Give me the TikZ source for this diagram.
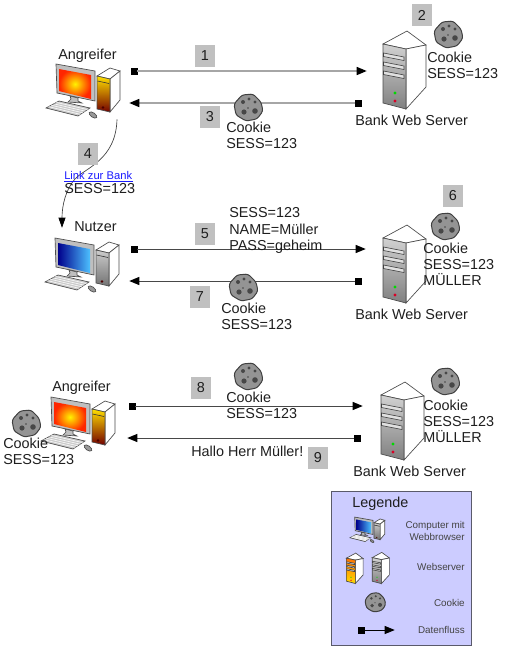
\documentclass[tikz,border=0pt]{standalone}
\usepackage{fontspec}
\setmainfont{Liberation Sans}
\usetikzlibrary{arrows.meta,shapes.geometric,calc}
\definecolor{ink}{HTML}{1E1E1E}
\definecolor{numbox}{HTML}{C0C0C0}
\definecolor{legfill}{HTML}{CCCCFF}
\definecolor{legedge}{HTML}{5A5A6A}
\definecolor{legtext}{HTML}{444444}
\definecolor{linkblue}{HTML}{1A1AFF}
\tikzset{
  lab/.style={anchor=north west,inner sep=0pt,align=left,text=ink,yshift=-0.9pt,font=\fontsize{10.8}{12.2}\selectfont},
  numb/.style={fill=numbox,minimum width=15pt,minimum height=16.5pt,inner sep=0pt,text=ink,font=\fontsize{10.8}{12}\selectfont},
  legt/.style={anchor=base east,inner sep=0pt,align=right,text=legtext,font=\fontsize{7.4}{9}\selectfont},
  sq/.style={fill=black,minimum size=5.25pt,inner sep=0pt},
  endp/.style={inner sep=0pt,minimum size=0pt},
  flowa/.style={draw=black!35,line width=1.1pt,-{Triangle[color=black,length=7.5pt,width=6pt]},shorten <=-0.75pt},
  flowb/.style={draw=black!72,line width=0.75pt,-{Triangle[color=black,length=7.5pt,width=6pt]},shorten <=-0.75pt},
  partline/.style={draw=black!75,line width=0.45pt},
  pcedge/.style={draw=black!70,line width=0.5pt}
}
\newcommand{\pccomputer}[5]{% x y scale, screen style, tower style
\begin{scope}[shift={(#1,#2)},scale=#3]
  \filldraw[fill=black!25,pcedge] (56,64) -- (95,71) -- (95,101) -- (57,93) -- cycle;
  \path[#4] (59,69) -- (91,75) -- (91,99) -- (59,91) -- cycle;
  \filldraw[fill=black!25,pcedge] (70,96) -- (78,98) -- (78,101) -- (82,103) -- (68,102) -- (71,99) -- cycle;
  \filldraw[fill=black!20,pcedge] (46,108) -- (59,101) -- (90,108) -- (78,116) -- cycle;
  \foreach \t in {0.2,0.4,0.6,0.8}{\draw[white,line width=0.4pt] ($(46,108)!\t!(59,101)$) -- ($(78,116)!\t!(90,108)$);}
  \filldraw[fill=black!40,pcedge,rotate around={-35:(93,115)}] (93,115) ellipse (4.5 and 2.2);
  \filldraw[fill=white,pcedge] (97,76) -- (110,68) -- (120,71) -- (110,79) -- cycle;
  \filldraw[fill=white,pcedge] (110,79) -- (120,71) -- (120,100) -- (110,112) -- cycle;
  \path[#5] (97,76) -- (110,79) -- (110,112) -- (97,109) -- cycle;
  \draw[pcedge] (97,76) -- (110,79) -- (110,112) -- (97,109) -- cycle;
  \draw[black!80,line width=0.45pt] (97.5,81) -- (109,83.5);
  \fill[black!70!red] (103,107.5) circle (1.3);
\end{scope}}
\newcommand{\webserver}[5]{% x y scale top bottom colour
\begin{scope}[shift={(#1,#2)},scale=#3]
  \filldraw[fill=white,pcedge] (383,44) -- (407,31) -- (426,45) -- (406,49) -- cycle;
  \filldraw[fill=white,pcedge] (406,49) -- (426,45) -- (426,87) -- (406,109) -- cycle;
  \path[top color=#4,bottom color=#5] (383,44) -- (406,49) -- (406,109) -- (383,103) -- cycle;
  \draw[pcedge] (383,44) -- (406,49) -- (406,109) -- (383,103) -- cycle;
  \foreach \d in {0,9,18}{\filldraw[fill=black!12,partline] (383.5,53+\d) -- (404,57+\d) -- (404,60.5+\d) -- (383.5,56.5+\d) -- cycle;}
  \fill[green!85!black] (395,93) circle (1.7);
  \fill[red!85!blue] (395,101) circle (1.7);
\end{scope}}
\newcommand{\biscuit}[3]{% cx cy scale
\begin{scope}[shift={(#1,#2)},scale=#3]
  \filldraw[fill=black!42,draw=black!75,line width=0.75pt,rounded corners=1.9pt]
    (-14,-3) -- (-6,-12) -- (5,-13) -- (13,-5) -- (15,4) -- (9,12) -- (-2,14) -- (-12,8) -- cycle;
  \fill[black!72] (-5,-5) circle (2) (1,-8) circle (1.6) (7,-5) circle (1.6)
    (-4,5) circle (2.6) (7,4) circle (2.8) (0,1) circle (0.9);
\end{scope}}
\begin{document}
\begin{tikzpicture}[x=0.75pt,y=-0.75pt]
\useasboundingbox (0,0) rectangle (509,651);
\tikzset{
 scrA/.style={inner color=yellow!90!orange,outer color=red!70!orange},
 scrB/.style={left color=blue!55!black,right color=blue!35!cyan!70},
 towA/.style={top color=yellow!75!orange,bottom color=red!45!black},
 towB/.style={top color=black!20,bottom color=black!55}
}
% computers
\pccomputer{0}{0}{1}{scrA}{towA}
\pccomputer{-1}{174}{1}{scrB}{towB}
\pccomputer{-5}{333}{1}{scrA}{towA}
% servers
\webserver{0}{0}{1}{black!18}{black!50}
\webserver{0}{194}{1}{black!18}{black!50}
\webserver{-2}{351}{1}{black!18}{black!50}

% flow connectors
\node[sq] (s1) at (134,71) {};   \node[endp] (e1) at (367,71) {};
\node[sq] (s3) at (358,103) {};  \node[endp] (e3) at (129,103) {};
\node[sq] (s5) at (134,249) {};  \node[endp] (e5) at (366,249) {};
\node[sq] (s7) at (358,281) {};  \node[endp] (e7) at (129,281) {};
\node[sq] (s8) at (132.5,406) {};\node[endp] (e8) at (363,406) {};
\node[sq] (s9) at (357,438) {};  \node[endp] (e9) at (127,438) {};
\draw[flowa] (s1) -- (e1);
\draw[flowa] (s3) -- (e3);
\draw[flowb] (s5) -- (e5);
\draw[flowb] (s7) -- (e7);
\draw[flowb] (s8) -- (e8);
\draw[flowb] (s9) -- (e9);
% link curve
\node[endp] (c0) at (117,119) {};
\node[endp] (c1) at (62,228) {};
\draw[black!75,line width=0.5pt,-{Triangle[color=black,length=7.5pt,width=5.25pt]}]
  (c0) .. controls (116,160) and (85,168) .. (75,179) .. controls (66,189) and (62,205) .. (c1);

% cookies
\biscuit{448}{34}{1}
\biscuit{248}{107}{1}
\biscuit{445}{226}{1}
\biscuit{243}{287}{1}
\biscuit{248}{376}{1}
\biscuit{445}{381}{1}
\biscuit{26}{423}{1}

% titles
\node[lab] (t1) at (58,47.3) {Angreifer};
\node[lab] (t2) at (74,220.3) {Nutzer};
\node[lab] (t3) at (52,379.3) {Angreifer};
\node[lab] (b1) at (355,113.3) {Bank Web Server};
\node[lab] (b2) at (355,307.3) {Bank Web Server};
\node[lab] (b3) at (353,464.3) {Bank Web Server};
% data labels
\node[lab] (d2) at (427,50.3) {Cookie\\SESS=123};
\node[lab] (d3) at (226,120.3) {Cookie\\SESS=123};
\node[lab,font=\fontsize{8.4}{9}\selectfont,text=linkblue,yshift=0.9pt] (d4a) at (64,171.3) {Link zur Bank};
\draw[linkblue,line width=0.5pt] (64,181.5) -- (133,181.5);
\node[lab] (d4b) at (64,182.3) {SESS=123};
\node[lab] (d5) at (229,206.3) {SESS=123\\NAME=Müller\\PASS=geheim};
\node[lab] (d6) at (423,241.3) {Cookie\\SESS=123\\MÜLLER};
\node[lab] (d7) at (221,301.3) {Cookie\\SESS=123};
\node[lab] (d8) at (226,390.3) {Cookie\\SESS=123};
\node[lab] (d9) at (423,398.3) {Cookie\\SESS=123\\MÜLLER};
\node[lab] (d10) at (191,444.3) {Hallo Herr Müller!};
\node[lab] (d11) at (3,436.3) {Cookie\\SESS=123};
% numbers
\node[numb] (n1) at (205,56) {1};
\node[numb] (n2) at (422,15) {2};
\node[numb] (n3) at (210,117) {3};
\node[numb] (n4) at (88,154) {4};
\node[numb] (n5) at (205,234) {5};
\node[numb] (n6) at (453,196) {6};
\node[numb] (n7) at (200,297) {7};
\node[numb] (n8) at (201,388) {8};
\node[numb] (n9) at (318,458) {9};

% legend
\node[draw=legedge,fill=legfill,line width=0.75pt,minimum width=105pt,minimum height=115.5pt,inner sep=0pt] (leg) at (401,568) {};
\node[lab] (legt) at (352,495.3) {Legende};
\pccomputer{328.4}{487}{0.47}{scrB}{towB}
\webserver{197}{541}{0.39}{orange!90!red}{yellow!70!orange}
\webserver{219}{540}{0.4}{black!18}{black!50}
\biscuit{375}{602}{0.72}
\node[legt] (l1) at (465,540) {Computer mit\\Webbrowser};
\node[legt] (l2) at (465,570) {Webserver};
\node[legt] (l3) at (465,606) {Cookie};
\node[legt] (l4) at (465,633) {Datenfluss};
\node[sq] (ls) at (361,630) {};
\node[endp] (le) at (395,630) {};
\draw[black,line width=0.6pt,-{Triangle[length=7.5pt,width=6pt]}] (ls) -- (le);
\end{tikzpicture}
\end{document}
